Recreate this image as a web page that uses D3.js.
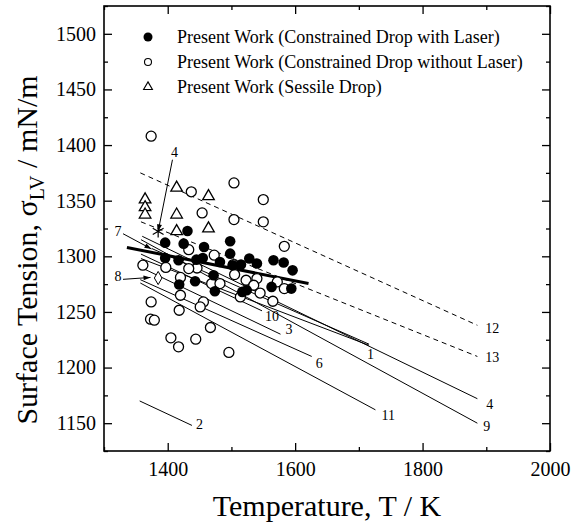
<!DOCTYPE html>
<html>
<head>
<meta charset="utf-8">
<script src="https://cdn.jsdelivr.net/npm/d3@7"></script>
<style>
  html, body { margin: 0; padding: 0; background: #fff; }
  svg { display: block; font-family: "Liberation Serif", "Times New Roman", serif; }
</style>
</head>
<body>
<svg id="chart" width="584" height="528"></svg>
<script>
// ---------------- data ----------------
const xMajorTicks = [1400, 1600, 1800, 2000];
const xMinorTicks = [1300, 1500, 1700, 1900];
const yMajorTicks = [1150, 1200, 1250, 1300, 1350, 1400, 1450, 1500];
const yMinorTicks = [1125, 1175, 1225, 1275, 1325, 1375, 1425, 1475, 1525];

const legendLabels = [
  "Present Work (Constrained Drop with Laser)",
  "Present Work (Constrained Drop without Laser)",
  "Present Work (Sessile Drop)"
];

// Constrained drop with laser (filled circles)
const laserT = [1431, 1396, 1425, 1457, 1498, 1498, 1396, 1417, 1445, 1455, 1482, 1502, 1515,
                1528, 1540, 1566, 1582, 1596, 1472, 1443, 1418, 1474, 1517, 1524, 1563, 1594];
const laserS = [1322.7, 1312.3, 1311.4, 1308.4, 1313.5, 1302.4, 1298.5, 1296.4, 1297, 1298.5, 1294.9, 1292, 1292.6,
                1298, 1293.5, 1296.4, 1294.4, 1287.4, 1283, 1277.6, 1274.6, 1268.6, 1268, 1269.5, 1272.5, 1271];

// Constrained drop without laser (open circles)
const noLaserT = [1374, 1504, 1437, 1550, 1454, 1504, 1550, 1583, 1433, 1473, 1361, 1397, 1446, 1433,
                  1503, 1420, 1469, 1482, 1523, 1540, 1535, 1572, 1583, 1514, 1545, 1565, 1374, 1420,
                  1456, 1451, 1418, 1373, 1379, 1467, 1405, 1417, 1444, 1496, 1505];
const noLaserS = [1408, 1366, 1358, 1351, 1339, 1333, 1331, 1309, 1306, 1301, 1292, 1290, 1289.5, 1289,
                  1292.6, 1281, 1275.5, 1275.5, 1278.5, 1280, 1274, 1277, 1271, 1263.5, 1267, 1259.6, 1259, 1265,
                  1259, 1254.5, 1251.5, 1243.5, 1242.6, 1236, 1226.7, 1218.6, 1225.5, 1213.6, 1283.6];

// Sessile drop (open triangles)
const sessileT = [1414, 1464, 1364.5, 1364.5, 1364.5, 1414, 1464, 1414];
const sessileS = [1361.6, 1354, 1351, 1344, 1337.4, 1337.4, 1325, 1322.5];

// Present-work fit (thick line)
const fitT = [1336, 1621];
const fitS = [1308, 1275.5];

// Literature lines (solid unless dashed)
const litNames  = ["1", "7", "3", "10", "4", "9", "6", "11", "2", "12", "13"];
const litT0     = [1358, 1375, 1358, 1358, 1360, 1358, 1357, 1357, 1356, 1357, 1358];
const litS0     = [1298, 1307, 1290, 1302, 1318, 1315, 1279, 1276, 1170, 1375, 1331];
const litT1     = [1716, 1716, 1577, 1548, 1886, 1886, 1626, 1726, 1438, 1886, 1886];
const litS1     = [1220, 1221, 1230, 1251, 1172, 1150, 1210, 1162, 1148, 1238, 1210];
const litDashed = [false, false, false, false, false, false, false, false, false, true, true];
const litLabel  = ["1", "", "3", "10", "4", "9", "6", "11", "2", "12", "13"];

// Single literature points with arrows
const star4 = {T: 1385, S: 1322.5};
const diamond8 = {T: 1385, S: 1280.5};
const arrowNames = ["4", "7", "8"];
const arrowLabelT = [1410.6, 1322, 1322];
const arrowLabelS = [1394, 1323, 1282];
const arrowTipT   = [1385, 1374.5, 1373];
const arrowTipS   = [1322.5, 1306.6, 1281];

// ---------------- layout / style ----------------
const W = 584, H = 528;
const plot = {left: 104, right: 550, top: 6, bottom: 451};
const labelOffsets = {
  "1": [-2, 14], "3": [5, 0], "10": [3, 10], "4": [9, 10], "9": [6, 8], "6": [4, 12],
  "11": [6, 10], "2": [4, 4], "12": [8, 8], "13": [8, 6]
};

const svg = d3.select("#chart");
const x = d3.scaleLinear().domain([1300, 2000]).range([plot.left, plot.right]);
const y = d3.scaleLinear().domain([1125, 1525]).range([plot.bottom, plot.top]);

// axes: ticks inward
function styleAxis(g) {
  g.select(".domain").remove();
  g.selectAll("line").attr("stroke", "#000").attr("stroke-width", 1.3);
  g.selectAll("text").attr("font-family", "Liberation Serif, Times New Roman, serif")
    .attr("font-size", 20).attr("fill", "#000");
}
svg.append("g").attr("transform", `translate(0,${plot.bottom})`)
  .call(d3.axisBottom(x).tickValues(xMajorTicks).tickSize(-8).tickPadding(11).tickFormat(d3.format("d")))
  .call(styleAxis);
svg.append("g").attr("transform", `translate(0,${plot.bottom})`)
  .call(d3.axisBottom(x).tickValues(xMinorTicks).tickSize(-4).tickFormat(""))
  .call(styleAxis);
svg.append("g").attr("transform", `translate(0,${plot.top})`)
  .call(d3.axisTop(x).tickValues(xMajorTicks).tickSize(-8).tickFormat(""))
  .call(styleAxis);
svg.append("g").attr("transform", `translate(0,${plot.top})`)
  .call(d3.axisTop(x).tickValues(xMinorTicks).tickSize(-4).tickFormat(""))
  .call(styleAxis);
svg.append("g").attr("transform", `translate(${plot.left},0)`)
  .call(d3.axisLeft(y).tickValues(yMajorTicks).tickSize(-8).tickPadding(8).tickFormat(d3.format("d")))
  .call(styleAxis);
svg.append("g").attr("transform", `translate(${plot.left},0)`)
  .call(d3.axisLeft(y).tickValues(yMinorTicks).tickSize(-4).tickFormat(""))
  .call(styleAxis);
svg.append("g").attr("transform", `translate(${plot.right},0)`)
  .call(d3.axisRight(y).tickValues(yMajorTicks).tickSize(-8).tickFormat(""))
  .call(styleAxis);
svg.append("g").attr("transform", `translate(${plot.right},0)`)
  .call(d3.axisRight(y).tickValues(yMinorTicks).tickSize(-4).tickFormat(""))
  .call(styleAxis);

svg.append("rect")
  .attr("x", plot.left).attr("y", plot.top)
  .attr("width", plot.right - plot.left).attr("height", plot.bottom - plot.top)
  .attr("fill", "none").attr("stroke", "#000").attr("stroke-width", 1.6);

// axis titles
svg.append("text")
  .attr("x", (plot.left + plot.right) / 2).attr("y", 516)
  .attr("text-anchor", "middle").attr("font-size", 30).attr("fill", "#000")
  .text("Temperature, T / K");

const yt = svg.append("text")
  .attr("transform", `translate(37,250) rotate(-90)`)
  .attr("text-anchor", "middle").attr("font-size", 30).attr("fill", "#000");
yt.append("tspan").text("Surface Tension, σ");
yt.append("tspan").attr("font-size", 20).attr("dy", 7).text("LV");
yt.append("tspan").attr("dy", -7).text(" / mN/m");

// clip
svg.append("defs").append("clipPath").attr("id", "clip")
  .append("rect").attr("x", plot.left).attr("y", plot.top)
  .attr("width", plot.right - plot.left).attr("height", plot.bottom - plot.top);
svg.select("defs").append("marker")
  .attr("id", "arrow").attr("viewBox", "0 0 10 10").attr("refX", 10).attr("refY", 5)
  .attr("markerWidth", 9).attr("markerHeight", 7).attr("markerUnits", "userSpaceOnUse")
  .attr("orient", "auto")
  .append("path").attr("d", "M0,1.5 L10,5 L0,8.5 Z").attr("fill", "#000");

const gPlot = svg.append("g").attr("clip-path", "url(#clip)");

// literature lines
const lit = litNames.map((n, i) => ({name: n, t0: litT0[i], s0: litS0[i], t1: litT1[i], s1: litS1[i],
  dashed: litDashed[i], label: litLabel[i]}));
gPlot.selectAll("line.lit").data(lit).join("line").attr("class", "lit")
  .attr("x1", d => x(d.t0)).attr("y1", d => y(d.s0))
  .attr("x2", d => x(d.t1)).attr("y2", d => y(d.s1))
  .attr("stroke", "#000").attr("stroke-width", 1)
  .attr("stroke-dasharray", d => d.dashed ? "5,4" : null);

svg.selectAll("text.litlab").data(lit.filter(d => d.label)).join("text").attr("class", "litlab")
  .attr("x", d => x(d.t1) + labelOffsets[d.label][0])
  .attr("y", d => y(d.s1) + labelOffsets[d.label][1])
  .attr("font-size", 14).attr("fill", "#000").text(d => d.label);

// present-work fit
gPlot.append("line")
  .attr("x1", x(fitT[0])).attr("y1", y(fitS[0]))
  .attr("x2", x(fitT[1])).attr("y2", y(fitS[1]))
  .attr("stroke", "#000").attr("stroke-width", 3);

// arrows
const arrows = arrowNames.map((n, i) => ({name: n, lt: arrowLabelT[i], ls: arrowLabelS[i], tt: arrowTipT[i], ts: arrowTipS[i]}));
svg.selectAll("text.arrlab").data(arrows).join("text").attr("class", "arrlab")
  .attr("x", d => x(d.lt)).attr("y", d => y(d.ls) + 5)
  .attr("text-anchor", "middle").attr("font-size", 14).attr("fill", "#000").text(d => d.name);
svg.selectAll("line.arr").data(arrows).join("line").attr("class", "arr")
  .attr("x1", d => d.name === "4" ? x(d.lt) - 2 : x(d.lt) + 5)
  .attr("y1", d => d.name === "4" ? y(d.ls) + 8 : y(d.ls) + 3)
  .attr("x2", d => x(d.tt)).attr("y2", d => y(d.ts))
  .attr("stroke", "#000").attr("stroke-width", 1).attr("marker-end", "url(#arrow)");

// single points
svg.append("path")
  .attr("transform", `translate(${x(star4.T)},${y(star4.S)})`)
  .attr("d", d3.symbol(d3.symbolAsterisk, 110)())
  .attr("fill", "none").attr("stroke", "#000").attr("stroke-width", 1.2);
svg.append("path")
  .attr("transform", `translate(${x(diamond8.T)},${y(diamond8.S)})`)
  .attr("d", d3.symbol(d3.symbolDiamond, 50)())
  .attr("fill", "#fff").attr("stroke", "#000").attr("stroke-width", 1);

// data points
const noLaser = noLaserT.map((t, i) => ({T: t, S: noLaserS[i]}));
const laser = laserT.map((t, i) => ({T: t, S: laserS[i]}));
const sessile = sessileT.map((t, i) => ({T: t, S: sessileS[i]}));

svg.append("g").selectAll("circle").data(noLaser).join("circle")
  .attr("cx", d => x(d.T)).attr("cy", d => y(d.S)).attr("r", 5)
  .attr("fill", "#fff").attr("stroke", "#000").attr("stroke-width", 1.3);
svg.append("g").selectAll("circle").data(laser).join("circle")
  .attr("cx", d => x(d.T)).attr("cy", d => y(d.S)).attr("r", 5.3)
  .attr("fill", "#000");
const tri = d3.symbol(d3.symbolTriangle, 58)();
svg.append("g").selectAll("path").data(sessile).join("path")
  .attr("transform", d => `translate(${x(d.T)},${y(d.S)})`)
  .attr("d", tri).attr("fill", "#fff").attr("stroke", "#000").attr("stroke-width", 1.3);

// legend
const legY = [37, 62, 87];
const leg = svg.append("g");
leg.append("circle").attr("cx", 148).attr("cy", legY[0]).attr("r", 4.5).attr("fill", "#000");
leg.append("circle").attr("cx", 148).attr("cy", legY[1]).attr("r", 3.5).attr("fill", "#fff")
  .attr("stroke", "#000").attr("stroke-width", 1.1);
leg.append("path").attr("transform", `translate(148,${legY[2]})`)
  .attr("d", d3.symbol(d3.symbolTriangle, 34)()).attr("fill", "#fff")
  .attr("stroke", "#000").attr("stroke-width", 1.1);
leg.selectAll("text").data(legendLabels).join("text")
  .attr("x", 177).attr("y", (d, i) => legY[i] + 6)
  .attr("font-size", 18).attr("fill", "#000").text(d => d);
</script>
</body>
</html>
